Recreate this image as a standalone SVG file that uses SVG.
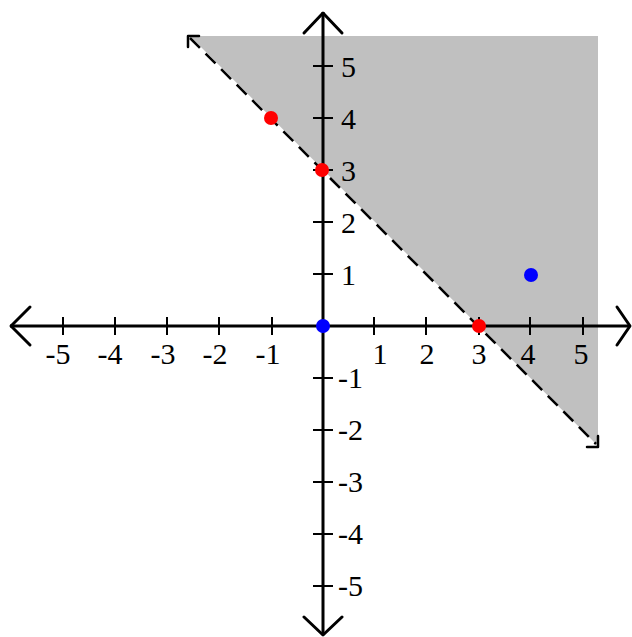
<svg xmlns="http://www.w3.org/2000/svg" width="632" height="637" viewBox="0 0 632 637">
<style>
.axis{stroke:#000;stroke-width:3;fill:none}
.tick{stroke:#000;stroke-width:2}
.arr{stroke:#000;stroke-width:3;fill:none;stroke-linecap:round;stroke-linejoin:round}
.lbl{font-family:"Liberation Serif","Times New Roman",serif;font-size:30px;fill:#000}
.xl{text-anchor:middle}
.bound{stroke:#000;stroke-width:2.5;stroke-dasharray:14 8;fill:none}
.barr{stroke:#000;stroke-width:2.5;fill:none;stroke-linecap:round;stroke-linejoin:round}
.red{fill:#ff0000}
.blue{fill:#0000ff}
</style>
<rect width="632" height="637" fill="#fff"/>
<g id="region">
<polygon points="190,36 598,36 598,446" fill="#c0c0c0"/>
</g>
<g id="axes">
<line class="axis" x1="10" y1="326" x2="630" y2="326"/>
<line class="axis" x1="323" y1="12" x2="323" y2="635"/>
<polyline class="arr" points="30,307 11,326 30,345"/>
<polyline class="arr" points="617,307 630,326 617,345"/>
<polyline class="arr" points="304,33 323,13 342,33"/>
<polyline class="arr" points="304,617 323,635 342,617"/>
</g>
<g id="ticks">
<line class="tick" x1="63" y1="317" x2="63" y2="335"/>
<line class="tick" x1="115" y1="317" x2="115" y2="335"/>
<line class="tick" x1="167" y1="317" x2="167" y2="335"/>
<line class="tick" x1="219" y1="317" x2="219" y2="335"/>
<line class="tick" x1="272" y1="317" x2="272" y2="335"/>
<line class="tick" x1="374" y1="317" x2="374" y2="335"/>
<line class="tick" x1="426" y1="317" x2="426" y2="335"/>
<line class="tick" x1="479" y1="317" x2="479" y2="335"/>
<line class="tick" x1="530" y1="317" x2="530" y2="335"/>
<line class="tick" x1="583" y1="317" x2="583" y2="335"/>
<line class="tick" x1="313" y1="66" x2="333" y2="66"/>
<line class="tick" x1="313" y1="118" x2="333" y2="118"/>
<line class="tick" x1="313" y1="170" x2="333" y2="170"/>
<line class="tick" x1="313" y1="222" x2="333" y2="222"/>
<line class="tick" x1="313" y1="274" x2="333" y2="274"/>
<line class="tick" x1="313" y1="378" x2="333" y2="378"/>
<line class="tick" x1="313" y1="430" x2="333" y2="430"/>
<line class="tick" x1="313" y1="482" x2="333" y2="482"/>
<line class="tick" x1="313" y1="534" x2="333" y2="534"/>
<line class="tick" x1="313" y1="586" x2="333" y2="586"/>
</g>
<g id="xlabels" class="lbl">
<text class="xl" x="58" y="364">-5</text>
<text class="xl" x="110" y="364">-4</text>
<text class="xl" x="163" y="364">-3</text>
<text class="xl" x="215" y="364">-2</text>
<text class="xl" x="268" y="364">-1</text>
<text class="xl" x="380" y="364">1</text>
<text class="xl" x="427" y="364">2</text>
<text class="xl" x="479" y="364">3</text>
<text class="xl" x="528" y="364">4</text>
<text class="xl" x="581" y="364">5</text>
</g>
<g id="ylabels" class="lbl">
<text x="341" y="77">5</text>
<text x="341" y="129">4</text>
<text x="341" y="181">3</text>
<text x="341" y="233">2</text>
<text x="341" y="285">1</text>
<text x="338" y="388">-1</text>
<text x="338" y="440">-2</text>
<text x="338" y="492">-3</text>
<text x="338" y="544">-4</text>
<text x="338" y="596">-5</text>
</g>
<g id="boundary">
<line class="bound" x1="190" y1="38" x2="596" y2="444"/>
<polyline class="barr" points="199,36 188,36 188,47"/>
<polyline class="barr" points="587,447 598,447 598,436"/>
</g>
<g id="points">
<circle class="red" cx="271" cy="118" r="7"/>
<circle class="red" cx="322" cy="170" r="7"/>
<circle class="red" cx="479" cy="326" r="7"/>
<circle class="blue" cx="323" cy="326" r="7"/>
<circle class="blue" cx="531" cy="275" r="7"/>
</g>
</svg>
